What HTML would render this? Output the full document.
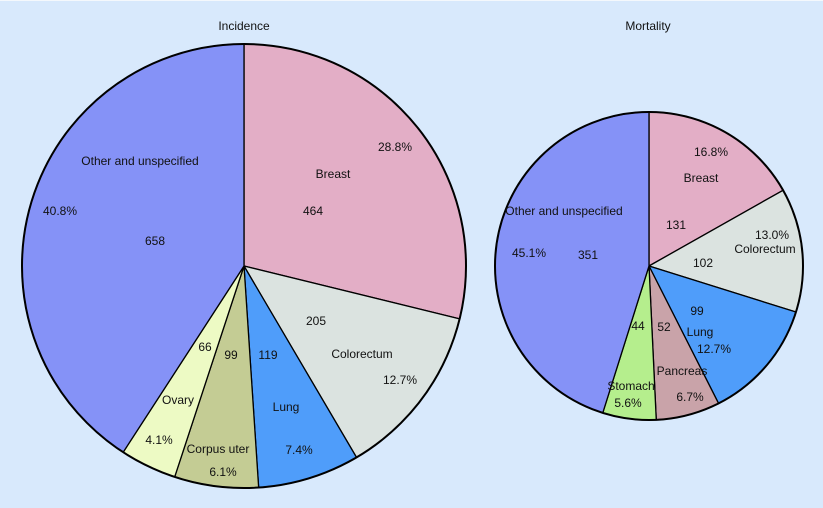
<!DOCTYPE html>
<html><head><meta charset="utf-8"><style>
html,body{margin:0;padding:0;background:#d8e9fc;}
svg{display:block}
text{font-family:"Liberation Sans",sans-serif;font-size:12px;fill:#111;text-anchor:middle;dominant-baseline:middle}
</style></head><body>
<svg id="s" width="823" height="508" viewBox="0 0 823 508">
<rect width="823" height="508" fill="#d8e9fc"/>
<rect width="823" height="1" fill="#f4f8fc"/>
<g id="pies"></g>
<text x="244" y="27">Incidence</text>
<text x="140" y="162">Other and unspecified</text>
<text x="60" y="212">40.8%</text>
<text x="155" y="242">658</text>
<text x="395" y="148">28.8%</text>
<text x="333" y="175">Breast</text>
<text x="313" y="212">464</text>
<text x="316" y="322">205</text>
<text x="362" y="355">Colorectum</text>
<text x="400" y="381">12.7%</text>
<text x="268" y="356">119</text>
<text x="286" y="408">Lung</text>
<text x="299" y="451">7.4%</text>
<text x="231" y="356">99</text>
<text x="218" y="450">Corpus uter</text>
<text x="223" y="473">6.1%</text>
<text x="205" y="348">66</text>
<text x="178" y="401">Ovary</text>
<text x="159" y="441">4.1%</text>
<text x="648" y="27">Mortality</text>
<text x="564" y="212">Other and unspecified</text>
<text x="529" y="254">45.1%</text>
<text x="588" y="256">351</text>
<text x="711" y="153">16.8%</text>
<text x="701" y="179">Breast</text>
<text x="676" y="226">131</text>
<text x="772" y="236">13.0%</text>
<text x="765" y="250">Colorectum</text>
<text x="703" y="264">102</text>
<text x="697" y="312">99</text>
<text x="700" y="333">Lung</text>
<text x="714" y="350">12.7%</text>
<text x="664" y="328">52</text>
<text x="682" y="372">Pancreas</text>
<text x="690" y="398">6.7%</text>
<text x="638" y="327">44</text>
<text x="631" y="387">Stomach</text>
<text x="628" y="404">5.6%</text>
</svg>
<script>
function pie(cx,cy,r,data){
  var tot=data.reduce(function(a,d){return a+d[0]},0),a0=0,out='';
  data.forEach(function(d){
    var a1=a0+d[0]/tot*2*Math.PI;
    var x0=cx+r*Math.sin(a0),y0=cy-r*Math.cos(a0),x1=cx+r*Math.sin(a1),y1=cy-r*Math.cos(a1);
    var large=(a1-a0)>Math.PI?1:0;
    out+='<path d="M'+cx+','+cy+' L'+x0.toFixed(2)+','+y0.toFixed(2)+' A'+r+','+r+' 0 '+large+' 1 '+x1.toFixed(2)+','+y1.toFixed(2)+' Z" fill="'+d[1]+'" stroke="#000" stroke-width="1.3"/>';
    a0=a1;
  });
  out+='<circle cx="'+cx+'" cy="'+cy+'" r="'+r+'" fill="none" stroke="#000" stroke-width="2"/>';
  return out;
}
document.getElementById('pies').innerHTML=
 pie(244,266,222,[[28.8,'#e3aec6'],[12.7,'#dbe3e0'],[7.4,'#4f9dfa'],[6.1,'#c4cc94'],[4.1,'#edfac4'],[40.8,'#8592f7']])+
 pie(649,266,154,[[16.8,'#e3aec6'],[13.0,'#dbe3e0'],[12.7,'#4f9dfa'],[6.7,'#c9a3a9'],[5.6,'#b5ee8d'],[45.1,'#8592f7']]);
</script>
</body></html>
